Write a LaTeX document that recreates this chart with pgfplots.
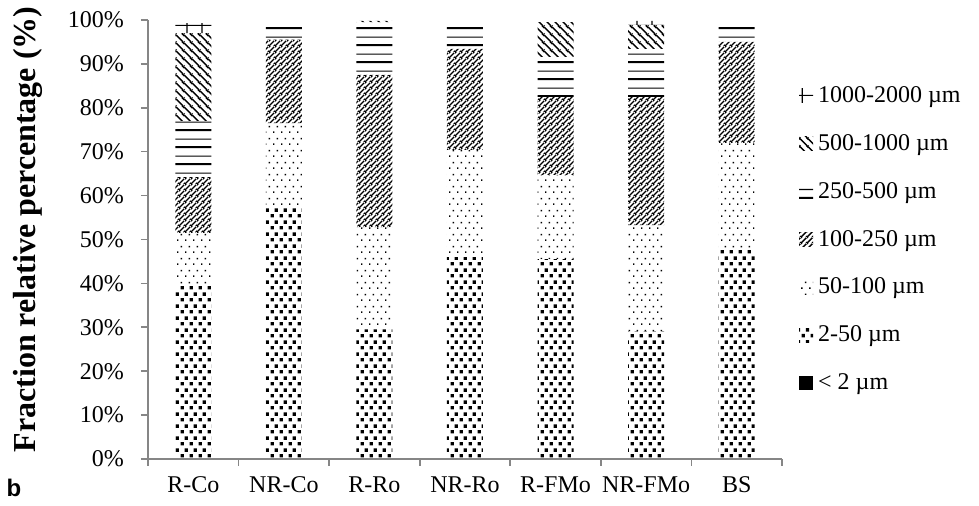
\documentclass[border=0pt]{standalone}
\usepackage{fontspec}
\setmainfont{Liberation Serif}
\newfontfamily\arialfont{Liberation Sans}
\usepackage{pgfplots}
\usepackage{pgfplotstable}
\pgfplotsset{compat=1.18}
\usetikzlibrary{patterns,patterns.meta}

\tikzdeclarepattern{
  name=sqdots, type=uncolored,
  bottom left={(0pt,0pt)}, top right={(4.5pt,6pt)}, tile size={(4.5pt,6pt)},
  code={\fill (0.3pt,0.35pt) rectangle (2.1pt,2.15pt);
        \fill (2.55pt,3.35pt) rectangle (4.35pt,5.15pt);}
}
\tikzdeclarepattern{
  name=sparsedots, type=uncolored,
  bottom left={(0pt,0pt)}, top right={(4pt,6pt)}, tile size={(4pt,6pt)},
  code={\fill (0.6pt,0.6pt) rectangle (1.4pt,1.4pt);
        \fill (2.6pt,3.6pt) rectangle (3.4pt,4.4pt);}
}
\tikzdeclarepattern{
  name=nelines, type=uncolored,
  bottom left={(0pt,0pt)}, top right={(2.8pt,2.8pt)}, tile size={(2.8pt,2.8pt)},
  code={\draw[line width=0.75pt] (0pt,0pt) -- (2.8pt,2.8pt);
        \draw[line width=0.75pt] (-2.8pt,0pt) -- (2.8pt,5.6pt);
        \draw[line width=0.75pt] (0pt,-2.8pt) -- (5.6pt,2.8pt);}
}
\tikzdeclarepattern{
  name=nwlines, type=uncolored,
  bottom left={(0pt,0pt)}, top right={(4pt,4pt)}, tile size={(4pt,4pt)},
  code={\draw[line width=0.8pt] (0pt,4pt) -- (4pt,0pt);
        \draw[line width=0.8pt] (-4pt,4pt) -- (4pt,-4pt);
        \draw[line width=0.8pt] (0pt,8pt) -- (8pt,0pt);}
}
\tikzdeclarepattern{
  name=hlines, type=uncolored,
  bottom left={(0pt,0pt)}, top right={(2pt,8.5pt)}, tile size={(2pt,8.5pt)},
  code={\draw[line width=1.1pt] (-0.5pt,1pt) -- (2.5pt,1pt);
        \draw[line width=0.55pt] (-0.5pt,5.25pt) -- (2.5pt,5.25pt);}
}
\tikzdeclarepattern{
  name=mybricks, type=uncolored,
  bottom left={(0pt,0pt)}, top right={(7.5pt,5pt)}, tile size={(7.5pt,5pt)},
  code={\draw[line width=0.6pt] (-0.5pt,0.3pt) -- (8pt,0.3pt);
        \draw[line width=0.6pt] (3.75pt,-0.5pt) -- (3.75pt,5.5pt);}
}

\definecolor{axgray}{RGB}{134,134,134}

\pgfplotstableread{
x a b c d e f g
0 0 39.5 12.0 12.7 12.8 20.0 2.3
1 0 57.5 19.0 19.0 3.8 0 0
2 0 29.5 23.3 34.7 12.0 0.3 0
3 0 46.0 24.4 23.0 6.0 0 0
4 0 45.5 19.2 17.8 9.1 7.9 0
5 0 29.0 24.3 29.2 10.9 5.5 0.9
6 0 47.8 24.2 23.0 4.3 0 0
}\data

\begin{document}
\begin{tikzpicture}
\begin{axis}[
  scale only axis,
  width=317pt, height=219.5pt,
  ybar stacked,
  bar width=18pt,
  xmin=-0.5, xmax=6.5,
  ymin=0, ymax=100,
  axis x line*=bottom,
  axis y line*=left,
  axis line style={axgray, line width=0.8pt, -},
  xtick={0,...,6},
  xticklabels={R-Co,NR-Co,R-Ro,NR-Ro,R-FMo,NR-FMo,BS},
  major x tick style={draw=none},
  minor xtick={-0.5,0.5,...,6.5},
  minor x tick style={axgray, line width=0.8pt},
  minor tick length=3.5pt,
  ytick={0,10,...,100},
  yticklabel={\pgfmathprintnumber{\tick}\%},
  y tick style={axgray, line width=0.8pt},
  major tick length=3.5pt,
  tick align=outside,
  /pgf/number format/assume math mode=true,
  tick label style={font=\fontsize{12}{14}\selectfont, black},
  xticklabel style={yshift=-2pt},
  yticklabel style={xshift=-5pt},
  ylabel={\textbf{Fraction relative percentage (\%)}},
  every axis y label/.style={at={(axis description cs:0,0.5)}, xshift=-60pt, yshift=5pt, rotate=90, anchor=center, font=\fontsize{16}{18}\selectfont},
  legend style={draw=none, at={(1.017,0.5)}, anchor=west, font=\fontsize{12}{14}\selectfont, row sep=10.5pt, nodes={inner xsep=2.5pt}},
  legend cell align=left,
  reverse legend,
  legend image code/.code={\fill[#1] (0pt,-3.5pt) rectangle (7pt,3.5pt);},
]
\addplot[fill=black, draw=none] table[x=x,y=a]{\data};
\addplot[pattern=sqdots, pattern color=black, draw=none] table[x=x,y=b]{\data};
\addplot[pattern=sparsedots, pattern color=black, draw=none] table[x=x,y=c]{\data};
\addplot[pattern=nelines, pattern color=black, draw=none] table[x=x,y=d]{\data};
\addplot[pattern=hlines, pattern color=black, draw=none] table[x=x,y=e]{\data};
\addplot[pattern=nwlines, pattern color=black, draw=none] table[x=x,y=f]{\data};
\addplot[pattern=mybricks, pattern color=black, draw=none] table[x=x,y=g]{\data};
\legend{< 2 µm, 2-50 µm, 50-100 µm, 100-250 µm, 250-500 µm, 500-1000 µm, 1000-2000 µm}
\end{axis}
\node[font=\arialfont\bfseries\fontsize{12}{14}\selectfont] at (-67pt,-14.5pt) {b};
\pgfresetboundingbox
\path (-74pt,-23.5pt) rectangle (415.5pt,229.5pt);
\end{tikzpicture}
\end{document}
